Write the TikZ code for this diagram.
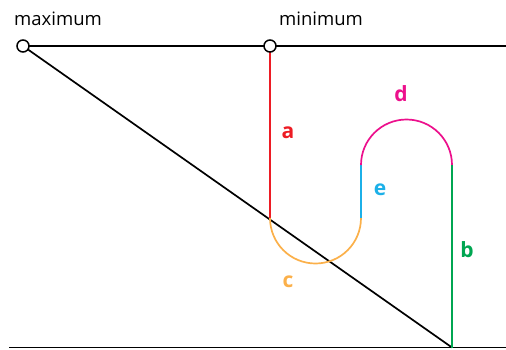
\documentclass[tikz,border=0pt]{standalone}
\usepackage{fontspec}
\setmainfont{Open Sans}
\definecolor{cred}{HTML}{ED1C24}
\definecolor{corange}{HTML}{FBB04A}
\definecolor{cmag}{HTML}{EC108C}
\definecolor{cblue}{HTML}{1CB0E8}
\definecolor{cgreen}{HTML}{00A651}
\tikzset{
  pt/.style={circle,draw=black,fill=white,line width=1.5pt,minimum size=12pt,inner sep=0pt},
  blk/.style={black,line width=1.7pt},
  seg/.style={line width=1.7pt},
  lbl/.style={font=\fontsize{21}{21}\selectfont\bfseries,inner sep=0pt},
  ttl/.style={font=\fontsize{18.5}{18.5}\selectfont,inner sep=0pt}
}
\begin{document}
\begin{tikzpicture}[x=1pt,y=-1pt]
\useasboundingbox (0,0) rectangle (506,349);
\coordinate (tr) at (506,46);
\coordinate (bl) at (9,347.5);
\coordinate (br) at (506,347.5);
\coordinate (bb) at (452,347.5);
\coordinate (a1) at (270,218);
\coordinate (e0) at (361,218);
\coordinate (e1) at (361,165);
\coordinate (b1) at (452,165);
\draw[blk] (bl) -- (br);
\draw[blk] (23,46) -- (tr);
\draw[blk] (23,46) -- (bb);
\draw[seg,cred] (270,46) -- (a1);
\draw[seg,corange] (a1) arc[start angle=180,end angle=0,radius=45.5];
\draw[seg,cblue] (e0) -- (e1);
\draw[seg,cmag] (e1) arc[start angle=180,end angle=360,radius=45.5];
\draw[seg,cgreen] (b1) -- (bb);
\node[pt] (max) at (23,46) {};
\node[pt] (min) at (270,46) {};
\node[ttl] (tmax) at (58,19) {maximum};
\node[ttl] (tmin) at (321,19) {minimum};
\node[lbl,cred] (la) at (288,133) {a};
\node[lbl,cgreen] (lb) at (467,250) {b};
\node[lbl,corange] (lc) at (288,282) {c};
\node[lbl,cmag] (ld) at (401,94) {d};
\node[lbl,cblue] (le) at (380,190) {e};
\end{tikzpicture}
\end{document}
